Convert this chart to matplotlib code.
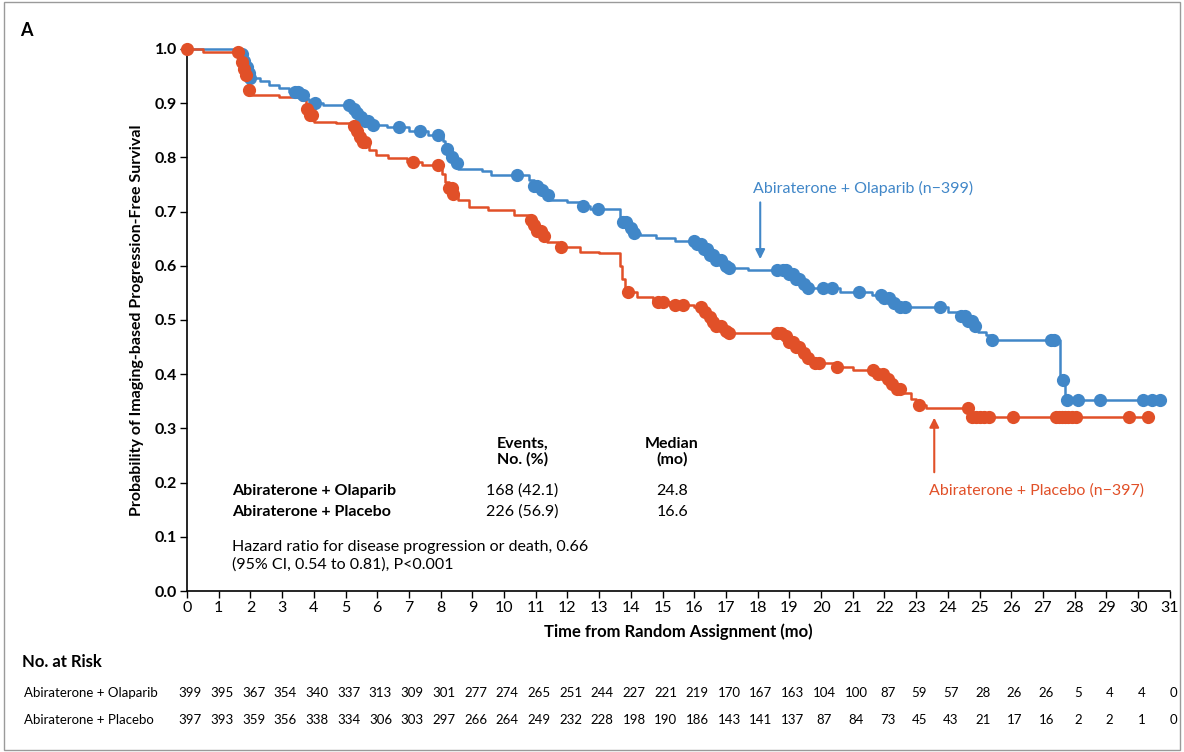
import numpy as np
import matplotlib
matplotlib.use("Agg")
import matplotlib.pyplot as plt
from matplotlib.patches import Rectangle

plt.rcParams['font.family'] = ['Lato', 'DejaVu Sans']

BLUE = '#4187c8'
RED = '#e15028'

# Kaplan-Meier steps (time in months, survival after step)
ola_t = [0, 1.70, 1.78, 1.85, 1.92, 2.00, 2.30, 2.60, 2.90, 3.20, 3.55, 3.70, 3.85, 4.30,
         5.15, 5.30, 5.45, 5.60, 5.80, 6.30, 7.00, 7.60, 8.08, 8.15, 8.25, 8.40, 8.55,
         9.30, 9.60, 10.80, 10.95, 11.10, 11.30, 11.45, 12.00, 12.40, 12.70, 13.66, 13.75,
         13.90, 14.10, 14.30, 14.80, 15.40, 16.10, 16.30, 16.50, 16.70, 16.90, 17.10, 17.70,
         19.00, 19.20, 19.40, 19.60, 20.60, 21.60, 21.95, 22.20, 22.50, 24.00, 24.40, 24.60,
         24.80, 24.95, 25.20, 25.35, 27.55, 27.68]
ola_s = [1.0, 0.990, 0.978, 0.966, 0.955, 0.946, 0.940, 0.933, 0.927, 0.921, 0.915, 0.908, 0.900, 0.897,
         0.890, 0.882, 0.875, 0.867, 0.860, 0.855, 0.848, 0.841, 0.830, 0.815, 0.800, 0.790, 0.778,
         0.774, 0.768, 0.758, 0.748, 0.740, 0.730, 0.722, 0.718, 0.710, 0.705, 0.690, 0.680,
         0.670, 0.661, 0.657, 0.651, 0.646, 0.640, 0.630, 0.620, 0.610, 0.600, 0.596, 0.592,
         0.585, 0.575, 0.566, 0.559, 0.552, 0.546, 0.540, 0.532, 0.524, 0.515, 0.508, 0.498,
         0.488, 0.478, 0.472, 0.463, 0.389, 0.352]
ola_cens = [1.72, 1.80, 1.88, 1.95, 2.0, 3.4, 3.5, 3.65, 4.05, 5.1, 5.25, 5.35, 5.5, 5.6, 5.7, 5.85,
            6.7, 7.35, 7.9, 8.2, 8.35, 8.5, 10.4, 10.95, 11.05, 11.2, 11.4, 12.5, 12.95, 13.75,
            13.85, 14.0, 14.1, 16.0, 16.1, 16.2, 16.3, 16.4, 16.5, 16.6, 16.7, 16.85, 17.0, 17.1,
            18.6, 18.8, 18.9, 19.0, 19.1, 19.2, 19.3, 19.45, 19.6, 20.05, 20.35, 21.2, 21.9, 22.0,
            22.15, 22.3, 22.5, 22.65, 23.75, 24.4, 24.55, 24.65, 24.75, 24.85, 25.4, 27.25, 27.35,
            27.62, 27.75, 28.1, 28.8, 30.15, 30.45, 30.7]

pla_t = [0, 0.50, 1.62, 1.70, 1.75, 1.82, 1.88, 1.92, 2.00, 2.90, 3.60, 3.75, 3.85, 4.00, 4.70,
         5.20, 5.35, 5.45, 5.55, 5.75, 5.95, 6.35, 6.95, 7.40, 8.05, 8.15, 8.25, 8.40, 8.55,
         8.90, 9.50, 10.30, 10.80, 10.90, 11.05, 11.20, 11.35, 11.70, 12.40, 13.00, 13.66,
         13.72, 13.80, 14.20, 14.70, 15.30, 16.00, 16.25, 16.40, 16.55, 16.70, 16.90, 17.10,
         18.80, 19.00, 19.20, 19.40, 19.55, 19.75, 20.40, 21.00, 21.80, 22.00, 22.20, 22.40,
         22.60, 22.85, 23.00, 23.30, 24.70]
pla_s = [1.0, 0.995, 0.988, 0.975, 0.962, 0.952, 0.940, 0.925, 0.915, 0.912, 0.905, 0.890, 0.878, 0.866, 0.863,
         0.857, 0.848, 0.838, 0.828, 0.813, 0.804, 0.798, 0.792, 0.786, 0.770, 0.755, 0.743, 0.732, 0.721,
         0.709, 0.702, 0.694, 0.685, 0.675, 0.665, 0.655, 0.644, 0.635, 0.626, 0.623, 0.600,
         0.575, 0.552, 0.543, 0.533, 0.527, 0.524, 0.515, 0.505, 0.497, 0.488, 0.480, 0.476,
         0.470, 0.460, 0.450, 0.440, 0.430, 0.421, 0.414, 0.408, 0.401, 0.392, 0.382, 0.372,
         0.365, 0.355, 0.343, 0.337, 0.321]
pla_cens = [0.0, 1.6, 1.72, 1.8, 1.86, 1.95, 3.78, 3.88, 3.95, 5.25, 5.35, 5.45, 5.55, 5.6, 7.13,
            7.93, 8.25, 8.35, 8.4, 10.85, 10.95, 11.05, 11.15, 11.25, 11.8, 13.9, 14.85, 15.0,
            15.4, 15.65, 16.2, 16.35, 16.5, 16.6, 16.7, 16.85, 17.0, 17.1, 18.6, 18.75, 18.9,
            19.0, 19.1, 19.2, 19.3, 19.45, 19.6, 19.8, 19.95, 20.5, 21.65, 21.8, 21.95, 22.1,
            22.25, 22.4, 22.5, 23.1, 24.65, 24.75, 24.9, 25.0, 25.15, 25.3, 26.05, 27.4, 27.5,
            27.6, 27.7, 27.8, 27.9, 28.05, 29.7, 30.3]

risk_months = list(range(32))
risk_ola = [399, 395, 367, 354, 340, 337, 313, 309, 301, 277, 274, 265, 251, 244, 227, 221,
            219, 170, 167, 163, 104, 100, 87, 59, 57, 28, 26, 26, 5, 4, 4, 0]
risk_pla = [397, 393, 359, 356, 338, 334, 306, 303, 297, 266, 264, 249, 232, 228, 198, 190,
            186, 143, 141, 137, 87, 84, 73, 45, 43, 21, 17, 16, 2, 2, 1, 0]


def censor_y(t, s, cens):
    t = np.asarray(t)
    s = np.asarray(s)
    idx = np.searchsorted(t, cens, side='right') - 1
    return s[idx]


fig = plt.figure(figsize=(11.84, 7.52), dpi=100)
ax = fig.add_axes([0.158, 0.214, 0.830, 0.721])

for t, s, cens, col in [(ola_t, ola_s, ola_cens, BLUE), (pla_t, pla_s, pla_cens, RED)]:
    tt = list(t) + [max(cens)]
    ss = list(s) + [s[-1]]
    ax.step(tt, ss, where='post', color=col, lw=1.8, clip_on=False, zorder=3)
    ax.plot(cens, censor_y(t, s, cens), 'o', color=col, ms=9.5, mec='none',
            clip_on=False, zorder=4)

ax.set_xlim(0, 31)
ax.set_ylim(0, 1.0)
ax.set_xticks(range(32))
ax.set_yticks(np.arange(0, 1.01, 0.1))
ax.set_yticklabels([f'{v:.1f}' for v in np.arange(0, 1.01, 0.1)], fontweight='bold')
ax.tick_params(axis='both', direction='out', length=5, width=1, labelsize=11.5, pad=2)
for sp in ['top', 'right']:
    ax.spines[sp].set_visible(False)
ax.spines['left'].set_linewidth(1.2)
ax.spines['bottom'].set_linewidth(1.2)

ax.set_xlabel('Time from Random Assignment (mo)', fontsize=12, fontweight='bold', labelpad=6)
ax.set_ylabel('Probability of Imaging-based Progression-Free Survival', fontsize=11.5,
              fontweight='bold', labelpad=8)

# curve labels with arrows
ax.text(17.85, 0.742, 'Abiraterone + Olaparib (n\u2212399)', color=BLUE, fontsize=11.5, va='center')
ax.annotate('', xy=(18.08, 0.607), xytext=(18.08, 0.722),
            arrowprops=dict(arrowstyle='-|>', color=BLUE, lw=1.5, mutation_scale=14))
ax.text(23.4, 0.185, 'Abiraterone + Placebo (n\u2212397)', color=RED, fontsize=11.5, va='center')
ax.annotate('', xy=(23.57, 0.325), xytext=(23.57, 0.214),
            arrowprops=dict(arrowstyle='-|>', color=RED, lw=1.5, mutation_scale=14))

# summary table
ax.text(10.57, 0.257, 'Events,\nNo. (%)', ha='center', va='center', fontsize=11.5,
        fontweight='bold', linespacing=1.15)
ax.text(15.3, 0.257, 'Median\n(mo)', ha='center', va='center', fontsize=11.5,
        fontweight='bold', linespacing=1.15)
ax.text(1.42, 0.185, 'Abiraterone + Olaparib', fontsize=11.5, fontweight='bold', va='center')
ax.text(1.42, 0.146, 'Abiraterone + Placebo', fontsize=11.5, fontweight='bold', va='center')
ax.text(10.57, 0.185, '168 (42.1)', fontsize=11.5, ha='center', va='center')
ax.text(10.57, 0.146, '226 (56.9)', fontsize=11.5, ha='center', va='center')
ax.text(15.3, 0.185, '24.8', fontsize=11.5, ha='center', va='center')
ax.text(15.3, 0.146, '16.6', fontsize=11.5, ha='center', va='center')
ax.text(1.42, 0.065, 'Hazard ratio for disease progression or death, 0.66\n(95% CI, 0.54 to 0.81), P<0.001',
        fontsize=11.5, va='center', linespacing=1.3)

# number at risk
fig.text(22 / 1184, 1 - 662 / 752, 'No. at Risk', fontsize=12, fontweight='bold', va='center')
trans = matplotlib.transforms.blended_transform_factory(ax.transData, fig.transFigure)
for label, vals, py in [('Abiraterone + Olaparib', risk_ola, 693), ('Abiraterone + Placebo', risk_pla, 720)]:
    yf = 1 - py / 752
    fig.text(24 / 1184, yf, label, fontsize=9.5, va='center')
    for m, v in zip(risk_months, vals):
        ax.text(m + 0.1, yf, str(v), transform=trans, fontsize=9.5, ha='center', va='center')

fig.text(20 / 1184, 1 - 30 / 752, 'A', fontsize=13, fontweight='bold', va='center')
fig.patches.append(Rectangle((0.003, 0.003), 0.994, 0.994, transform=fig.transFigure,
                             fill=False, edgecolor='#9a9a9a', lw=1))

plt.savefig('out.png', dpi=100)
